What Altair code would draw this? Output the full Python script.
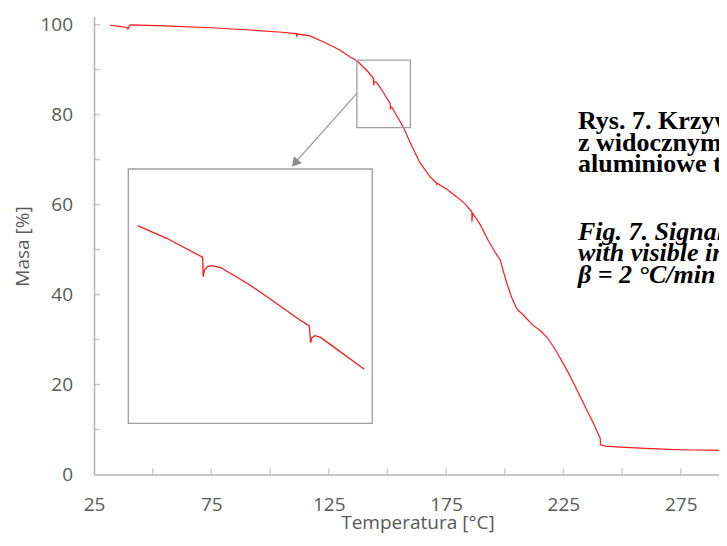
import altair as alt
import pandas as pd

# ---- data ----
temperature = [31.8, 36.0, 39.3, 39.4, 39.6, 40.2, 41.0, 55.0, 75.0, 91.5, 105.0, 111.3, 111.35, 111.6,
               117.1, 124.2, 129.9, 134.1, 137.2, 139.82, 141.74, 144.12, 144.16, 144.25, 144.45, 144.7,
               145.27, 146.15, 147.25, 148.36, 149.46, 150.56, 151.18, 151.27, 151.35, 151.55, 151.9,
               152.77, 154.82, 156.9, 159.5, 162.0, 164.0, 166.1, 168.5, 171.0, 171.05, 171.2, 175.0,
               179.6, 183.0, 186.0, 186.05, 186.2, 186.5, 189.5, 193.0, 196.0, 198.1, 199.5, 200.9,
               203.0, 205.2, 208.0, 212.0, 215.1, 218.0, 220.8, 223.5, 226.5, 229.3, 232.2, 235.0,
               237.8, 240.7, 240.8, 242.8, 249.2, 260.0, 270.0, 280.0, 287.0, 294.7]
mass = [99.85, 99.6, 99.3, 99.0, 99.05, 99.9, 99.95, 99.7, 99.3, 98.8, 98.3, 98.0, 97.3, 97.9,
        97.5, 95.8, 94.3, 92.8, 91.9, 90.53, 89.52, 88.0, 86.45, 87.0, 87.25, 87.33,
        87.2, 86.58, 85.78, 84.85, 83.92, 82.98, 82.5, 81.16, 81.55, 81.72, 81.6,
        80.84, 79.03, 77.1, 74.0, 71.3, 69.2, 67.7, 66.0, 64.8, 64.3, 64.75, 63.5,
        61.7, 60.2, 58.4, 56.2, 57.5, 58.0, 55.6, 52.0, 49.3, 47.7, 45.0, 42.5,
        39.3, 36.8, 35.4, 33.2, 32.0, 30.5, 28.4, 26.0, 23.2, 20.4, 17.3, 14.3,
        11.4, 8.0, 6.6, 6.3, 6.1, 5.8, 5.6, 5.45, 5.4, 5.35]

x_label_values = [25, 75, 125, 175, 225, 275]
x_tick_values = [50, 75, 100, 125, 150, 175, 200, 225, 250, 275]
y_label_values = [0, 20, 40, 60, 80, 100]
y_tick_values = [10, 20, 30, 40, 50, 60, 70, 80, 90, 100]

x_title = "Temperatura [°C]"
y_title = "Masa [%]"

caption_pl = ["Rys. 7. Krzywa TG", "z widocznymi", "aluminiowe tygle"]
caption_en = ["Fig. 7. Signal", "with visible interference", "β = 2 °C/min"]

# zoom region (small box) and inset window
zoom_box_t = [137.0, 159.8]
zoom_box_m = [77.1, 92.1]
inset_t = [139.2, 155.35]
inset_m = [74.7, 95.07]
arrow_t = [137.0, 111.0]
arrow_m = [84.7, 69.5]
arrow_head = [110.6, 69.2]

df = pd.DataFrame({"T": temperature, "M": mass})

GREY_TXT = "#595959"
AXIS_C = "#b5b5b5"
BOX_C = "#a0a0a0"
RED = "#ff1a1a"

XS = alt.Scale(domain=[25, 291.3], nice=False, zero=False)
YS = alt.Scale(domain=[0, 101.8], nice=False, zero=False)

main_line = alt.Chart(df).mark_line(color=RED, strokeWidth=1.2, clip=True).encode(
    x=alt.X("T:Q", scale=XS, axis=alt.Axis(
        values=x_label_values, title=x_title, grid=False, ticks=False, tickSize=0,
        domainColor=AXIS_C, domainWidth=1.5, labelFont="Open Sans", labelFontSize=19,
        labelColor=GREY_TXT, labelPadding=21, labelFlush=False,
        titleFont="Open Sans", titleFontSize=19, titleFontWeight="normal", titleColor=GREY_TXT,
        titleX=323.5, titleY=54, titleBaseline="alphabetic", titleAlign="center")),
    y=alt.Y("M:Q", scale=YS, axis=alt.Axis(
        values=y_label_values, title=y_title, grid=False, ticks=False, tickSize=0,
        domainColor=AXIS_C, domainWidth=1.5, labelFont="Open Sans", labelFontSize=19,
        labelColor=GREY_TXT, labelPadding=21.5, labelFlush=False,
        titleFont="Open Sans", titleFontSize=19, titleFontWeight="normal", titleColor=GREY_TXT,
        titleAngle=270, titleX=-66, titleY=229.5, titleBaseline="alphabetic", titleAlign="center")),
    order="T:Q",
)

xt = alt.Chart(pd.DataFrame({"v": x_tick_values})).mark_tick(
    orient="vertical", size=6, thickness=1.5, yOffset=-3, color=AXIS_C
).encode(x=alt.X("v:Q", scale=XS), y=alt.datum(0, scale=YS))

yt = alt.Chart(pd.DataFrame({"v": y_tick_values})).mark_tick(
    orient="horizontal", size=6, thickness=1.5, xOffset=3, color=AXIS_C
).encode(y=alt.Y("v:Q", scale=YS), x=alt.datum(25, scale=XS))

small_box = alt.Chart(pd.DataFrame({"a": [0]})).mark_rect(
    fillOpacity=0, stroke=BOX_C, strokeWidth=1.3
).encode(x=alt.datum(zoom_box_t[0], scale=XS), x2=alt.datum(zoom_box_t[1]),
         y=alt.datum(zoom_box_m[1], scale=YS), y2=alt.datum(zoom_box_m[0]))

arrow_df = pd.DataFrame({"T": arrow_t, "M": arrow_m})
arrow_line = alt.Chart(arrow_df).mark_line(color="#999999", strokeWidth=1.3).encode(
    x=alt.X("T:Q", scale=XS), y=alt.Y("M:Q", scale=YS))
arrow_tip = alt.Chart(pd.DataFrame({"T": [arrow_head[0]], "M": [arrow_head[1]]})).mark_point(
    shape="triangle-up", angle=221.5, filled=True, size=110, color="#8c8c8c", opacity=1
).encode(x=alt.X("T:Q", scale=XS), y=alt.Y("M:Q", scale=YS))

cap1 = alt.Chart(pd.DataFrame({"a": [0]})).mark_text(
    text=caption_pl, font="Liberation Serif", fontWeight="bold", fontSize=26, lineHeight=21.5,
    align="left", baseline="alphabetic", color="black"
).encode(x=alt.datum(231.2, scale=XS), y=alt.datum(76.7, scale=YS))
cap2 = alt.Chart(pd.DataFrame({"a": [0]})).mark_text(
    text=caption_en, font="Liberation Serif", fontWeight="bold", fontStyle="italic", fontSize=26,
    lineHeight=21.5, align="left", baseline="alphabetic", color="black"
).encode(x=alt.datum(231.2, scale=XS), y=alt.datum(52.2, scale=YS))

main = alt.layer(main_line, xt, yt, small_box, arrow_line, arrow_tip, cap1, cap2)

IXS = alt.Scale(domain=inset_t, range=[34.3, 278.3], nice=False, zero=False)
IYS = alt.Scale(domain=inset_m, range=[406.8, 152.5], nice=False, zero=False)

inset_frame = alt.Chart(pd.DataFrame({"a": [0]})).mark_rect(
    fillOpacity=0, stroke=BOX_C, strokeWidth=1.3
).encode(x=alt.datum(inset_t[0], scale=IXS, axis=None), x2=alt.datum(inset_t[1]),
         y=alt.datum(inset_m[1], scale=IYS, axis=None), y2=alt.datum(inset_m[0]))
inset_line = alt.Chart(df).transform_filter(
    (alt.datum.T >= 139.8) & (alt.datum.T <= 154.9)
).mark_line(color=RED, strokeWidth=1.3).encode(
    x=alt.X("T:Q", scale=IXS, axis=None), y=alt.Y("M:Q", scale=IYS, axis=None), order="T:Q")
inset = alt.layer(inset_frame, inset_line)

chart = alt.layer(main, inset).resolve_scale(x="independent", y="independent").properties(
    width=625, height=458,
    autosize=alt.AutoSizeParams(type="none"),
    padding={"left": 86, "top": 8.5, "right": 0, "bottom": 59},
).configure_view(stroke=None)

chart.save("out.html", embed_options={"renderer": "svg", "actions": False})
